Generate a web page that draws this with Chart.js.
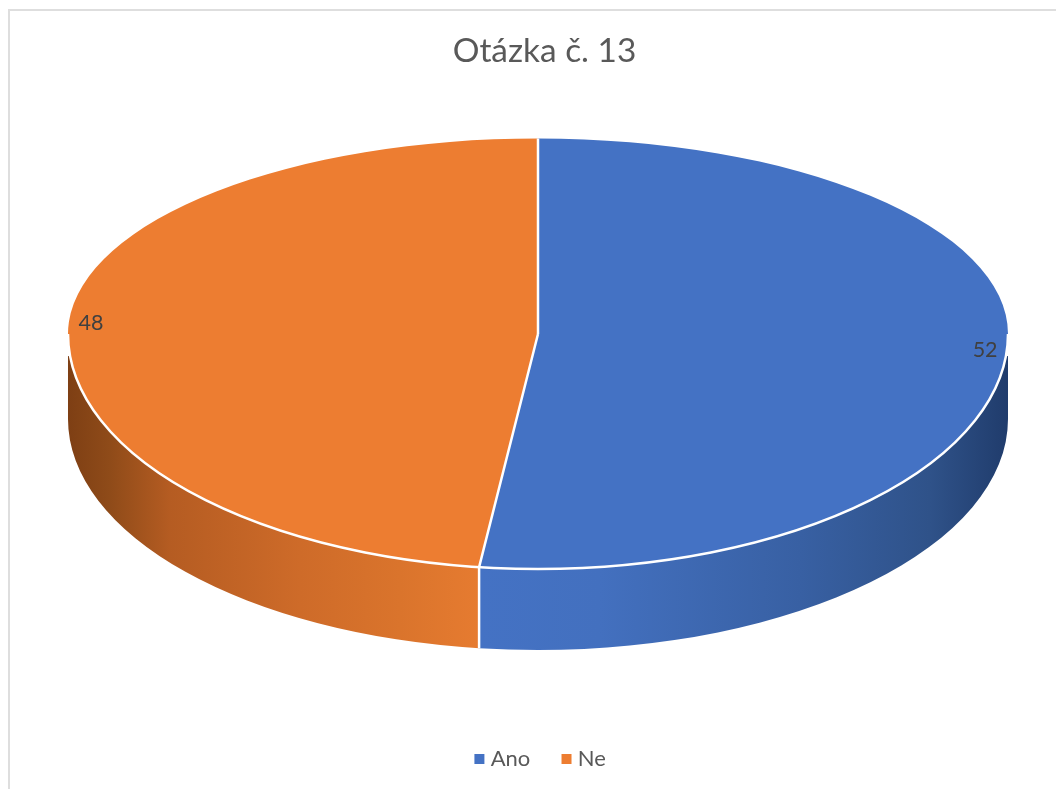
<!DOCTYPE html>
<html>
<head>
<meta charset="utf-8">
<style>html,body{margin:0;padding:0;background:#fff;overflow:hidden}canvas{display:block}</style>
<script src="https://cdn.jsdelivr.net/npm/chart.js@4"></script>
</head>
<body>
<canvas id="c" width="1056" height="789"></canvas>
<script>
const categories = ["Ano", "Ne"];
const values = [52, 48];
const sliceColors = ["#4472C4", "#ED7D31"];
const chartTitle = "Otázka č. 13";

// projection of the flat pie onto the tilted 3D disc
const disc = {cx: 538, cy: 334, rx: 470, ryTop: 195.5, ryBottom: 235, depth: 85, ryBase: 231, sideTop: 356};
const sideStops = [
  [[479, "#4472C4"], [600, "#4370BF"], [800, "#3860A3"], [930, "#2F5289"], [1008, "#203C6C"]],
  [[68, "#7E3F14"], [110, "#8F4B19"], [170, "#B55C22"], [300, "#CE6B29"], [400, "#DA742C"], [479, "#E67B30"]]
];

const pie3d = {
  id: "pie3d",
  afterLayout(chart) {
    chart.titleBlock.left += 2;
    chart.titleBlock.right += 2;
  },
  beforeDraw(chart) {
    const c = chart.ctx;
    c.save();
    c.fillStyle = "#fff";
    c.fillRect(0, 0, chart.width, chart.height);
    c.fillStyle = "#DEDEDE";
    c.fillRect(8, 9, 2, chart.height - 9);
    c.fillRect(8, 9, chart.width - 8, 2);
    c.restore();
  },
  beforeDatasetsDraw(chart) {
    const c = chart.ctx, arcs = chart.getDatasetMeta(0).data, d = disc;
    // extruded side
    arcs.forEach((a, i) => {
      const s = Math.max(a.startAngle, 0), e = Math.min(a.endAngle, Math.PI);
      if (e <= s) return;
      const stops = sideStops[i], x0 = stops[0][0], x1 = stops[stops.length - 1][0];
      const g = c.createLinearGradient(x0, 0, x1, 0);
      stops.forEach(st => g.addColorStop((st[0] - x0) / (x1 - x0), st[1]));
      c.save();
      c.beginPath();
      c.rect(0, d.sideTop, chart.width, chart.height);
      c.clip();
      c.beginPath();
      c.ellipse(d.cx, d.cy + d.depth, d.rx, d.ryBase, 0, s, e);
      c.ellipse(d.cx, d.cy, d.rx, d.ryBottom, 0, e, s, true);
      c.closePath();
      c.fillStyle = g;
      c.fill();
      c.restore();
    });
    // top face: library arcs, upper and lower half mapped to their own vertical radius
    [[0, d.cy, d.ryTop], [d.cy, chart.height - d.cy, d.ryBottom]].forEach(([y, h, ry]) => {
      c.save();
      c.beginPath();
      c.rect(0, y, chart.width, h);
      c.clip();
      arcs.forEach(a => {
        c.save();
        c.translate(d.cx, d.cy);
        c.scale(d.rx / a.outerRadius, ry / a.outerRadius);
        c.translate(-a.x, -a.y);
        a.draw(c);
        c.restore();
      });
      c.restore();
    });
    // white rim and seams
    c.save();
    c.strokeStyle = "#fff";
    c.lineWidth = 2.5;
    c.beginPath();
    c.ellipse(d.cx, d.cy, d.rx, d.ryBottom, 0, 0, Math.PI);
    c.stroke();
    arcs.forEach(a => {
      const t = a.startAngle, sn = Math.sin(t);
      const ry = sn < 0 ? d.ryTop : d.ryBottom;
      const px = d.cx + d.rx * Math.cos(t), py = d.cy + ry * sn;
      c.beginPath();
      c.moveTo(d.cx, d.cy);
      c.lineTo(px, py);
      if (sn > 0) {
        c.lineTo(px, d.cy + d.depth + d.ryBase * sn);
      }
      c.stroke();
    });
    c.restore();
    // value labels, inside end of each slice
    c.save();
    c.font = "21.5px Lato";
    c.fillStyle = "#404040";
    c.textAlign = "center";
    c.textBaseline = "middle";
    arcs.forEach((a, i) => {
      const m = (a.startAngle + a.endAngle) / 2, sn = Math.sin(m), cs = Math.cos(m);
      const ry = sn < 0 ? d.ryTop : d.ryBottom;
      c.fillText(String(values[i]), d.cx + (d.rx - 22) * cs, d.cy + ry * sn + 1);
    });
    c.restore();
    return false;
  }
};

new Chart(document.getElementById("c"), {
  type: "pie",
  data: {
    labels: categories,
    datasets: [{data: values, backgroundColor: sliceColors, borderWidth: 0}]
  },
  plugins: [pie3d],
  options: {
    responsive: false,
    animation: false,
    events: [],
    layout: {padding: {left: 29, right: 0, top: 0, bottom: 9}},
    plugins: {
      tooltip: {enabled: false},
      title: {
        display: true,
        text: chartTitle,
        color: "#595959",
        font: {family: "Lato", size: 33.4, weight: "normal"},
        padding: {top: 31, bottom: 10}
      },
      legend: {
        position: "bottom",
        labels: {
          color: "#595959",
          font: {family: "Lato", size: 22},
          usePointStyle: true,
          pointStyle: "rect",
          boxWidth: 0.5,
          boxHeight: 10,
          padding: 36
        }
      }
    }
  }
});
</script>
</body>
</html>
